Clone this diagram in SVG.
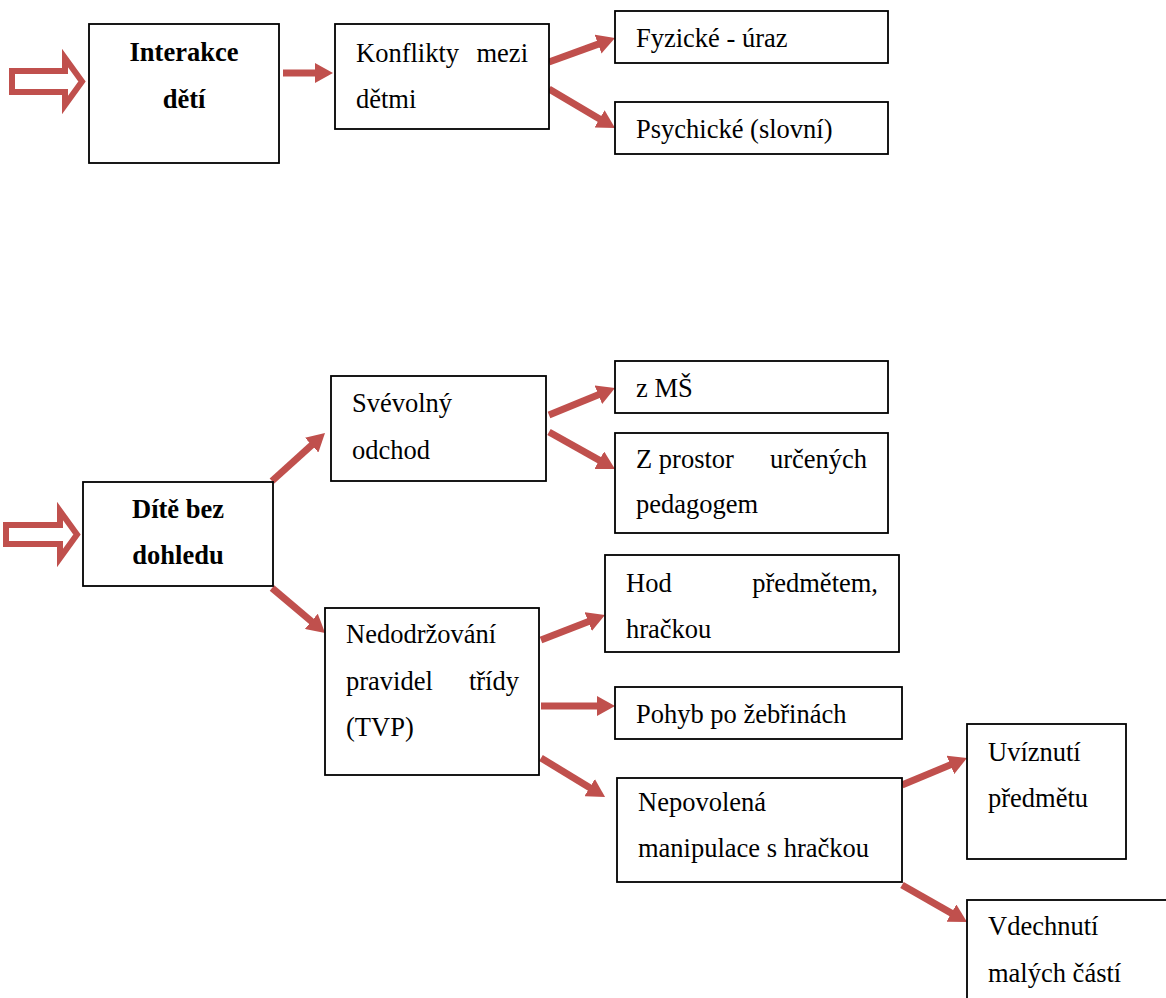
<svg xmlns="http://www.w3.org/2000/svg" width="1166" height="998" viewBox="0 0 1166 998">
<style>
.box{fill:#fff;stroke:#000;stroke-width:1.8}
.t{font-family:"Liberation Serif","Times New Roman",serif;font-size:26.5px;fill:#000}
.b{font-weight:bold;text-anchor:middle}
.e{text-anchor:end}
.con{stroke:#C0504D;stroke-width:7;fill:none;marker-end:url(#ah)}
.hollow{fill:#fff;stroke:#C0504D;stroke-width:6;stroke-linejoin:miter}
</style>
<defs>
<marker id="ah" markerUnits="userSpaceOnUse" markerWidth="18" markerHeight="20" refX="6" refY="10" orient="auto" viewBox="0 0 18 20">
<path d="M0,0 L18,10 L0,20 Z" fill="#C0504D"/>
</marker>
</defs>
<rect width="1166" height="998" fill="#fff"/>
<g id="connectors">
<polygon class="hollow" points="12,71 65,71 65,58 82,81.5 65,105 65,92 12,92"/>
<polygon class="hollow" points="6,525 60,525 60,511 77,534.5 60,558 60,544 6,544"/>
<line class="con" x1="283" y1="73" x2="321" y2="73"/>
<line class="con" x1="549" y1="62" x2="603.7" y2="42.1"/>
<line class="con" x1="549" y1="89" x2="604.7" y2="121.9"/>
<line class="con" x1="272" y1="481" x2="316.1" y2="441.1"/>
<line class="con" x1="272" y1="588" x2="315.9" y2="625.2"/>
<line class="con" x1="549" y1="415" x2="603.9" y2="392.5"/>
<line class="con" x1="549" y1="432" x2="604.5" y2="463.1"/>
<line class="con" x1="541" y1="640" x2="593.8" y2="619.4"/>
<line class="con" x1="541" y1="706" x2="603" y2="706"/>
<line class="con" x1="541" y1="758" x2="594.8" y2="790.7"/>
<line class="con" x1="902" y1="785" x2="955.9" y2="762.6"/>
<line class="con" x1="902" y1="885" x2="956.6" y2="916.1"/>
</g>
<g id="interakce">
<rect class="box" x="89" y="24" width="190" height="139"/>
<text class="t b" x="184" y="61">Interakce</text>
<text class="t b" x="184" y="108">dětí</text>
</g>
<g id="konflikty">
<rect class="box" x="335" y="24" width="214" height="105"/>
<text class="t" x="356" y="62">Konflikty</text>
<text class="t e" x="528" y="62">mezi</text>
<text class="t" x="356" y="108">dětmi</text>
</g>
<g id="fyzicke">
<rect class="box" x="615" y="11" width="273" height="52"/>
<text class="t" x="636" y="47">Fyzické - úraz</text>
</g>
<g id="psychicke">
<rect class="box" x="615" y="102" width="273" height="52"/>
<text class="t" x="636" y="138">Psychické (slovní)</text>
</g>
<g id="dite">
<rect class="box" x="83" y="482" width="190" height="104"/>
<text class="t b" x="178" y="518">Dítě bez</text>
<text class="t b" x="178" y="564">dohledu</text>
</g>
<g id="svevolny">
<rect class="box" x="331" y="376" width="215" height="105"/>
<text class="t" x="352" y="412">Svévolný</text>
<text class="t" x="352" y="459">odchod</text>
</g>
<g id="zms">
<rect class="box" x="615" y="361" width="273" height="52"/>
<text class="t" x="636" y="397">z MŠ</text>
</g>
<g id="zprostor">
<rect class="box" x="615" y="433" width="273" height="100"/>
<text class="t" x="636" y="468">Z prostor</text>
<text class="t e" x="867" y="468">určených</text>
<text class="t" x="636" y="513">pedagogem</text>
</g>
<g id="nedodrzovani">
<rect class="box" x="325" y="608" width="214" height="167"/>
<text class="t" x="346" y="643">Nedodržování</text>
<text class="t" x="346" y="690">pravidel</text>
<text class="t e" x="519" y="690">třídy</text>
<text class="t" x="346" y="736">(TVP)</text>
</g>
<g id="hod">
<rect class="box" x="605" y="555" width="294" height="97"/>
<text class="t" x="626" y="592">Hod</text>
<text class="t e" x="878" y="592">předmětem,</text>
<text class="t" x="626" y="638">hračkou</text>
</g>
<g id="pohyb">
<rect class="box" x="615" y="687" width="287" height="52"/>
<text class="t" x="636" y="723">Pohyb po žebřinách</text>
</g>
<g id="nepovolena">
<rect class="box" x="617" y="778" width="285" height="104"/>
<text class="t" x="638" y="811">Nepovolená</text>
<text class="t" x="638" y="857">manipulace s hračkou</text>
</g>
<g id="uviznuti">
<rect class="box" x="967" y="724" width="159" height="135"/>
<text class="t" x="988" y="761">Uvíznutí</text>
<text class="t" x="988" y="807">předmětu</text>
</g>
<g id="vdechnuti">
<rect class="box" x="967" y="900" width="210" height="110"/>
<text class="t" x="988" y="935">Vdechnutí</text>
<text class="t" x="988" y="982">malých částí</text>
</g>
</svg>
